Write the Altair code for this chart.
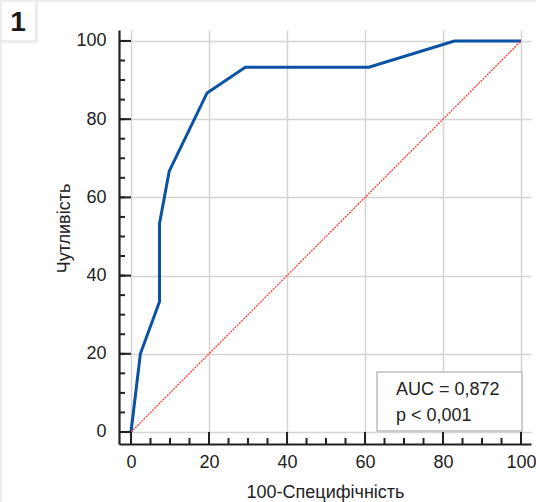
import altair as alt
import pandas as pd

# ROC curve points (100-Specificity, Sensitivity)
fpr = [0, 2.4, 7.3, 7.3, 9.8, 19.5, 29.3, 61.0, 82.9, 100]
tpr = [0, 20.0, 33.3, 53.3, 66.7, 86.7, 93.3, 93.3, 100, 100]
diag_x = [0, 100]
diag_y = [0, 100]
major_ticks = [0, 20, 40, 60, 80, 100]
minor_ticks = list(range(0, 101, 5))
stats_lines = ["AUC = 0,872", "p < 0,001"]
panel_label = "1"
x_title = "100-Специфічність"
y_title = "Чутливість"

FONT = "Liberation Sans"
FS = 18
W, H = 412, 414

roc = pd.DataFrame({"x": fpr, "y": tpr, "i": range(len(fpr))})
diag = pd.DataFrame({"x": diag_x, "y": diag_y})
maj = pd.DataFrame({"x": major_ticks, "y": major_ticks})
mnr = pd.DataFrame({"x": minor_ticks, "y": minor_ticks})
one = pd.DataFrame({"a": [0]})

xs = alt.Scale(domain=[-3.08, 102.56], nice=False, zero=False)
ys = alt.Scale(domain=[-3.07, 102.8], nice=False, zero=False)

common_axis = dict(
    values=major_ticks, tickSize=0, labelFontSize=FS, labelColor="#222",
    labelFont=FONT, domainColor="#222", domainWidth=2.2, grid=True,
    gridColor="#d4d4d4", gridWidth=1.5, titleFontSize=FS, titleFont=FONT,
    titleFontWeight="normal", titleColor="#222", labelFlush=False,
    labelOverlap=False,
)

x_axis = alt.Axis(title=x_title, labelPadding=9, titleY=53,
                  titleBaseline="alphabetic", **common_axis)
y_axis = alt.Axis(title=y_title, labelPadding=13, titleX=-50, titleY=198,
                  titleBaseline="alphabetic", titleAlign="center", **common_axis)

X = alt.X("x:Q", scale=xs, axis=x_axis, title=x_title)
Y = alt.Y("y:Q", scale=ys, axis=y_axis, title=y_title)

roc_line = alt.Chart(roc).mark_line(color="#0a52a3", strokeWidth=3).encode(
    x=X, y=Y, order="i:Q",
)

diag_line = alt.Chart(diag).mark_line(
    color="#ff3030", strokeWidth=1.2, strokeDash=[2, 1]
).encode(x=X, y=Y)

def yticks(df, size):
    return alt.Chart(df).mark_rule(color="#222", strokeWidth=2).encode(
        y=Y, x=alt.value(0), x2=alt.value(size)
    )

def xticks(df, size):
    return alt.Chart(df).mark_rule(color="#222", strokeWidth=2).encode(
        x=X, y=alt.value(H), y2=alt.value(H - size)
    )

box = alt.Chart(one).mark_rect(fill="white", stroke="#bdbdbd", strokeWidth=1.5).encode(
    x=alt.value(258), x2=alt.value(403), y=alt.value(342), y2=alt.value(401)
)
txt1 = alt.Chart(one).mark_text(
    text=stats_lines[0], align="left", baseline="alphabetic", fontSize=FS,
    font=FONT, color="#222"
).encode(x=alt.value(277), y=alt.value(365))
txt2 = alt.Chart(one).mark_text(
    text=stats_lines[1], align="left", baseline="alphabetic", fontSize=FS,
    font=FONT, color="#222"
).encode(x=alt.value(277), y=alt.value(391))

frame_col = "#ececec"
top_strip = alt.Chart(one).mark_rect(fill=frame_col).encode(
    x=alt.value(-119), x2=alt.value(417), y=alt.value(-30), y2=alt.value(-28))
left_strip = alt.Chart(one).mark_rect(fill=frame_col).encode(
    x=alt.value(-119), x2=alt.value(-117), y=alt.value(-30), y2=alt.value(472))
lab_outer = alt.Chart(one).mark_rect(fill=frame_col).encode(
    x=alt.value(-119), x2=alt.value(-81), y=alt.value(-30), y2=alt.value(13))
lab_inner = alt.Chart(one).mark_rect(fill="white").encode(
    x=alt.value(-117), x2=alt.value(-84), y=alt.value(-28), y2=alt.value(10))
lab_text = alt.Chart(one).mark_text(
    text=panel_label, align="center", baseline="alphabetic", fontSize=28,
    fontWeight="bold", font=FONT, color="#1a1a1a"
).encode(x=alt.value(-101), y=alt.value(1))

chart = alt.layer(
    roc_line, diag_line,
    yticks(mnr, 6), yticks(maj, 12), xticks(mnr, 6), xticks(maj, 12),
    box, txt1, txt2,
    top_strip, left_strip, lab_outer, lab_inner, lab_text,
).properties(
    width=W, height=H,
    autosize=alt.AutoSizeParams(type="none"),
    padding={"left": 119, "top": 30, "right": 5, "bottom": 58},
    background="white",
).configure_view(stroke=None)

chart.save("out.html", embed_options={"renderer": "svg", "actions": False})
